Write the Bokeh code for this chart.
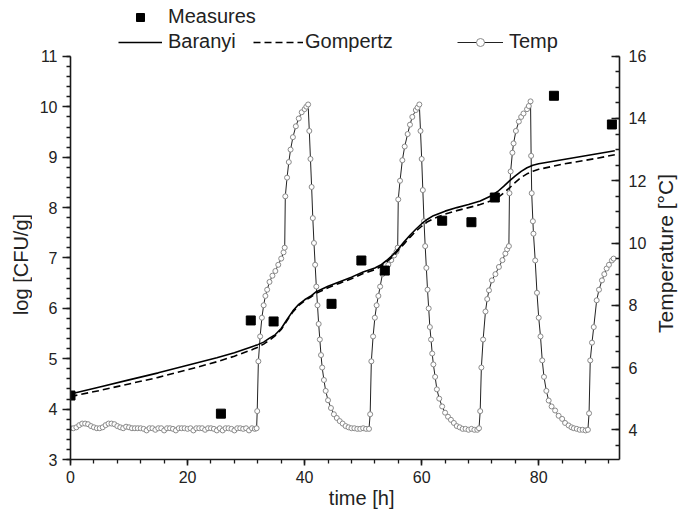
import math
from bokeh.plotting import figure
from bokeh.layouts import row
from bokeh.models import Range1d, LinearAxis, FixedTicker, Legend, LegendItem, Label
from bokeh.embed import file_html
from bokeh.resources import INLINE

FONT = "Liberation Sans"
INK = "#1a1a1a"
TXT = "#222222"

# ---- measured counts (log CFU/g) ----
measure_time = [0, 25.7, 30.8, 34.7, 44.6, 49.7, 53.7, 63.5, 68.5, 72.5, 82.6, 92.5]
measure_log = [4.27, 3.91, 5.76, 5.74, 6.09, 6.95, 6.75, 7.74, 7.71, 8.2, 10.22, 9.65]

# ---- model fits ----
fit_time = [0, 5, 10, 15, 20, 25, 28, 31, 32, 33, 34, 35, 36, 37, 38, 39, 40, 41, 42, 44,
            46, 48, 50, 52, 53, 54, 55, 56, 57, 58, 59, 60, 61, 62, 64, 66, 68, 70, 72, 73,
            74, 75, 76, 77, 78, 79, 80, 82, 84, 86, 88, 90, 93]
baranyi = [4.30, 4.44, 4.58, 4.72, 4.87, 5.02, 5.12, 5.24, 5.28, 5.33, 5.41, 5.48, 5.60, 5.78, 5.95, 6.08, 6.17, 6.24, 6.33, 6.44,
           6.53, 6.62, 6.72, 6.80, 6.86, 6.95, 7.05, 7.18, 7.32, 7.45, 7.57, 7.68, 7.77, 7.84, 7.93, 8.00, 8.06, 8.13, 8.24, 8.32,
           8.42, 8.53, 8.63, 8.72, 8.79, 8.84, 8.87, 8.91, 8.95, 8.99, 9.03, 9.07, 9.13]
gompertz = [4.25, 4.37, 4.50, 4.63, 4.78, 4.94, 5.05, 5.18, 5.23, 5.29, 5.37, 5.46, 5.58, 5.76, 5.93, 6.06, 6.15, 6.22, 6.30, 6.41,
            6.50, 6.59, 6.69, 6.77, 6.83, 6.92, 7.02, 7.15, 7.28, 7.41, 7.53, 7.63, 7.72, 7.78, 7.87, 7.94, 8.00, 8.06, 8.14, 8.20,
            8.29, 8.39, 8.50, 8.60, 8.67, 8.72, 8.76, 8.81, 8.86, 8.90, 8.94, 8.98, 9.05]

# ---- temperature record (deg C) ----
temp_time = [
    0, 0.5, 1, 1.5, 2, 2.5, 3, 3.5, 4, 4.5,
    5, 5.5, 6, 6.5, 7, 7.5, 8, 8.5, 9, 9.5,
    10, 10.5, 11, 11.5, 12, 12.5, 13, 13.5, 14, 14.5,
    15, 15.5, 16, 16.5, 17, 17.5, 18, 18.5, 19, 19.5,
    20, 20.5, 21, 21.5, 22, 22.5, 23, 23.5, 24, 24.5,
    25, 25.5, 26, 26.5, 27, 27.5, 28, 28.5, 29, 29.5,
    30, 30.5, 31, 31.5, 31.8,
    31.9, 32.1, 32.4, 32.7, 33.0, 33.3, 33.6, 34.0, 34.5, 35.0, 35.5, 36.0, 36.4, 36.6,
    36.7, 37.0, 37.3, 37.6, 38.0, 38.5, 39.0, 39.5, 40.0, 40.3, 40.6,
    40.8, 41.0, 41.2, 41.4, 41.6, 41.8, 42.0, 42.2, 42.4, 42.6, 42.8, 43.0, 43.3, 43.6, 44.0,
    44.5, 45.0, 45.5, 46.0, 46.5, 47.0, 47.5, 48.0, 48.5, 49.0, 49.5, 50.0, 50.5, 51.0,
    51.2, 51.4, 51.7, 52.0, 52.3, 52.6, 52.9, 53.3, 53.8, 54.3, 54.8, 55.3, 55.7, 55.9,
    56.0, 56.3, 56.7, 57.1, 57.6, 58.0, 58.4, 59.0, 59.3, 59.6,
    59.8, 60.0, 60.2, 60.4, 60.6, 60.8, 61.0, 61.2, 61.4, 61.6, 61.8, 62.0, 62.3, 62.6, 63.0,
    63.5, 64.0, 64.5, 65.0, 65.5, 66.0, 66.5, 67.0, 67.5, 68.0, 68.5, 69.0, 69.5, 69.8,
    70.0, 70.2, 70.5, 70.9, 71.2, 71.5, 72.0, 72.6, 73.2, 73.8, 74.3, 74.6, 74.9,
    75.0, 75.2, 75.5, 75.7, 76.1, 76.6, 77.0, 77.4, 78.0, 78.3, 78.6,
    78.7, 78.8, 79.0, 79.1, 79.4, 79.7, 80.0, 80.3, 80.6, 80.9, 81.3, 81.7,
    82.2, 82.8, 83.4, 84.0, 84.5, 85.1, 85.6, 86.0, 86.5, 87.0, 87.5, 88.0, 88.4,
    88.6, 88.8, 89.1, 89.4, 89.9, 90.3, 90.8, 91.2, 91.6, 92.0, 92.5, 92.8,
]
temp_value = [
    4.05, 4.05, 4.08, 4.15, 4.20, 4.20, 4.18, 4.12, 4.08, 4.05,
    4.05, 4.08, 4.15, 4.20, 4.20, 4.18, 4.12, 4.08, 4.05, 4.10,
    4.08, 4.05, 4.05, 4.05, 4.05, 4.03, 3.98, 4.05, 4.05, 4.00,
    4.05, 4.05, 3.98, 4.05, 4.05, 4.03, 3.98, 4.05, 4.05, 4.05,
    4.03, 4.05, 3.98, 4.05, 4.05, 4.05, 4.00, 4.05, 4.05, 4.03,
    3.98, 4.05, 3.98, 4.05, 4.05, 4.03, 3.98, 4.05, 4.05, 4.03,
    4.05, 3.98, 4.05, 4.03, 4.05,
    4.6, 6.2, 7.0, 7.6, 8.0, 8.3, 8.5, 8.75, 8.95, 9.1, 9.3, 9.5, 9.7, 9.85,
    11.5, 12.1, 12.6, 13.0, 13.4, 13.75, 14.0, 14.2, 14.3, 14.38, 14.45,
    13.6, 12.7, 11.8, 10.8, 10.0, 9.3, 8.6, 8.0, 7.4, 6.9, 6.4, 6.0, 5.6, 5.25, 4.95,
    4.7, 4.5, 4.38, 4.28, 4.2, 4.12, 4.08, 4.05, 4.05, 4.03, 4.03, 4.05, 4.03, 4.03,
    4.5, 6.2, 7.0, 7.6, 8.0, 8.3, 8.6, 9.0, 9.15, 9.3, 9.45, 9.6, 9.72, 9.85,
    11.4, 12.0, 12.66, 13.1, 13.5, 13.8, 14.05, 14.27, 14.35, 14.45,
    13.6, 12.7, 11.7, 10.7, 9.9, 9.2, 8.5, 7.9, 7.3, 6.9, 6.45, 6.1, 5.7, 5.3, 5.0,
    4.75, 4.55, 4.42, 4.32, 4.22, 4.12, 4.08, 4.03, 4.03, 4.0, 4.03, 4.0, 4.0, 4.05,
    4.6, 6.0, 6.9, 7.8, 8.2, 8.48, 8.8, 9.0, 9.23, 9.45, 9.66, 9.8, 9.9,
    11.6, 12.3, 12.9, 13.2, 13.6, 13.9, 14.05, 14.16, 14.3, 14.4, 14.55,
    12.8, 11.6, 10.7, 10.3, 9.44, 8.4, 7.6, 7.0, 6.23, 5.7, 5.25, 4.94,
    4.75, 4.62, 4.45, 4.35, 4.22, 4.14, 4.08, 4.05, 4.03, 4.0, 4.0, 3.98, 4.0,
    4.53, 6.23, 6.8, 7.3, 8.16, 8.5, 8.8, 9.0, 9.18, 9.3, 9.44, 9.5,
]

# ---- axes ticks and titles ----
x_ticks = [0, 20, 40, 60, 80]
log_ticks = [3, 4, 5, 6, 7, 8, 9, 10, 11]
temp_ticks = [4, 6, 8, 10, 12, 14, 16]
x_title = "time [h]"
left_title = "log [CFU/g]"
right_title = "Temperature [°C]"

# main plot: its frame spans the full height so the legend drawn inside the frame is not
# clipped; axis bounds keep the visible axes at 3..11 (left) and ~3..16 (right)
p = figure(width=620, height=515, output_backend="svg", toolbar_location=None,
           x_range=Range1d(0, 93.8), y_range=Range1d(3, 12.111),
           min_border_left=38, min_border_right=33, min_border_top=0, min_border_bottom=56)
p.extra_y_ranges = {"temp": Range1d(3.046, 17.79)}
p.outline_line_color = None
p.xgrid.visible = False
p.ygrid.visible = False


def style(ax):
    ax.axis_line_color = INK
    ax.axis_line_width = 1.6
    ax.major_tick_line_color = INK
    ax.major_tick_line_width = 1.6
    ax.minor_tick_line_color = INK
    ax.minor_tick_line_width = 1.3
    ax.major_label_text_font = FONT
    ax.major_label_text_font_size = "16px"
    ax.major_label_text_color = TXT
    ax.axis_label_text_font = FONT
    ax.axis_label_text_font_size = "20px"
    ax.axis_label_text_font_style = "normal"
    ax.axis_label_text_color = TXT


xa = p.xaxis[0]
xa.ticker = FixedTicker(ticks=x_ticks, minor_ticks=[4 * i for i in range(24)])
xa.axis_label = "\u00a0" * 6 + x_title
style(xa)
xa.major_tick_out = 6
xa.major_tick_in = 0
xa.minor_tick_out = 4
xa.minor_tick_in = 0
xa.major_label_standoff = 5
xa.axis_label_standoff = 1

ya = p.yaxis[0]
ya.ticker = FixedTicker(ticks=log_ticks, minor_ticks=[3 + 0.2 * i for i in range(41)])
ya.bounds = (3, 11)
style(ya)
ya.major_tick_out = 8
ya.major_tick_in = 0
ya.minor_tick_out = 4
ya.minor_tick_in = 0
ya.major_label_standoff = 5

ra = LinearAxis(y_range_name="temp")
ra.ticker = FixedTicker(ticks=temp_ticks, minor_ticks=[3.5 + 0.5 * i for i in range(26)])
ra.bounds = (3.046, 16)
style(ra)
ra.major_tick_out = 0
ra.major_tick_in = 8
ra.minor_tick_out = 0
ra.minor_tick_in = 4
ra.major_label_standoff = 9
p.add_layout(ra, "right")

r_temp_line = p.line(temp_time, temp_value, y_range_name="temp", line_color="#222222", line_width=1)
r_temp_pts = p.scatter(temp_time, temp_value, y_range_name="temp", marker="circle", size=5,
                       line_color="#8a8a8a", fill_color="white", line_width=1)
r_bar = p.line(fit_time, baranyi, line_color="black", line_width=1.6)
r_gom = p.line(fit_time, gompertz, line_color="black", line_width=1.6, line_dash="7 4")
r_meas = p.scatter(measure_time, measure_log, marker="square", size=9, color="black")


def add_leg(label, rends, x, y, gw, standoff):
    leg = Legend(items=[LegendItem(label=label, renderers=rends)], location=(x, y),
                 orientation="horizontal", glyph_width=gw, glyph_height=20, label_height=20,
                 label_standoff=standoff, padding=0, margin=0, spacing=0,
                 border_line_color=None, background_fill_alpha=0,
                 label_text_font=FONT, label_text_font_size="20px", label_text_color=TXT)
    p.add_layout(leg)


add_leg("Measures", [r_meas], 48, 431, 44, 6)
add_leg("Baranyi", [r_bar], 48, 406, 44, 6)
add_leg("Gompertz", [r_gom], 183, 406, 50, 2)
add_leg("Temp", [r_temp_line, r_temp_pts], 387, 406, 46, 6)


# narrow side strips holding the rotated axis titles (both read bottom-to-top)
def title_strip(width, text, x, y, size):
    f = figure(width=width, height=515, output_backend="svg", toolbar_location=None,
               x_range=Range1d(0, width), y_range=Range1d(0, 515),
               x_axis_location=None, y_axis_location=None, min_border=0)
    f.outline_line_color = None
    f.xgrid.visible = False
    f.ygrid.visible = False
    f.add_layout(Label(x=x, y=y, x_units="screen", y_units="screen", text=text,
                       angle=math.pi / 2, text_align="center", text_baseline="middle",
                       text_font=FONT, text_font_size=size, text_color=TXT))
    return f


left_strip = title_strip(32, left_title, 20, 195, "20px")
right_strip = title_strip(40, right_title, 13, 206, "21px")

layout = row(left_strip, p, right_strip, spacing=0)
open("out.html", "w").write(file_html(layout, INLINE))
